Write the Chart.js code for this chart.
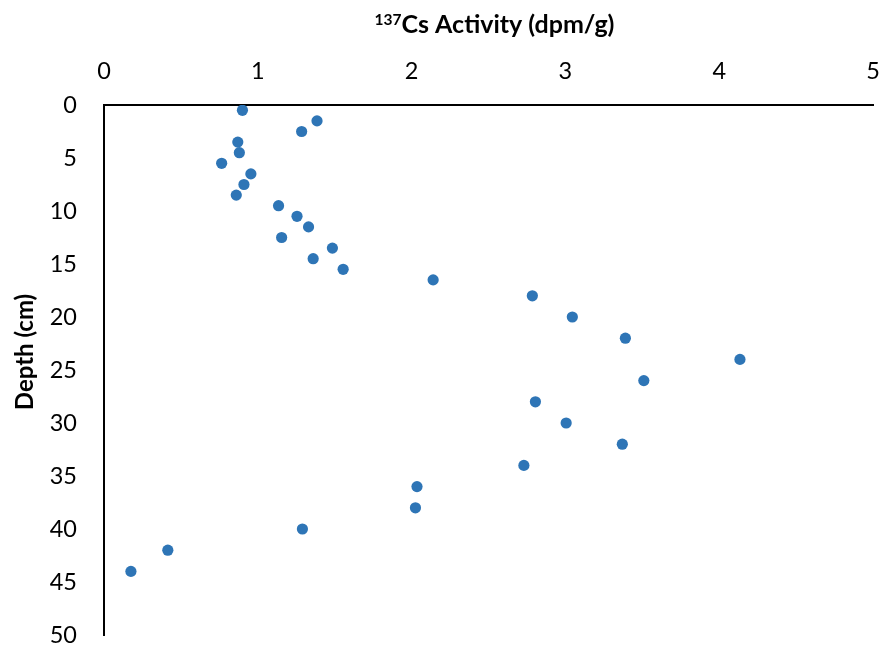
<!DOCTYPE html>
<html>
<head>
<meta charset="utf-8">
<script src="https://cdn.jsdelivr.net/npm/chart.js@4/dist/chart.umd.min.js"></script>
<style>
html,body{margin:0;padding:0;background:#fff;}
#wrap{width:886px;height:648px;}
</style>
</head>
<body>
<div id="wrap"><canvas id="c" width="886" height="648"></canvas></div>
<script>
const depth = [0.5,1.5,2.5,3.5,4.5,5.5,6.5,7.5,8.5,9.5,10.5,11.5,12.5,13.5,14.5,15.5,16.5,18,20,22,24,26,28,30,32,34,36,38,40,42,44];
const activity = [0.90,1.385,1.285,0.87,0.88,0.765,0.955,0.91,0.86,1.135,1.255,1.33,1.155,1.485,1.36,1.555,2.14,2.785,3.045,3.39,4.135,3.51,2.805,3.005,3.37,2.73,2.035,2.025,1.29,0.415,0.175];
const xTicks = [0,1,2,3,4,5];
const yTicks = [0,5,10,15,20,25,30,35,40,45,50];
const xTitleSup = '137';
const xTitleMain = 'Cs Activity (dpm/g)';
const yTitle = 'Depth (cm)';

const pts = depth.map((d,i)=>({x:activity[i], y:d}));
const FONT = 'Lato, "Open Sans", sans-serif';

const titlePlugin = {
  id:'titles',
  afterDraw(chart){
    const ctx = chart.ctx, ca = chart.chartArea;
    ctx.save();
    ctx.fillStyle = '#000';
    ctx.textBaseline = 'alphabetic';
    ctx.textAlign = 'left';
    const supFont = 'bold 15.5px ' + FONT, mainFont = 'bold 25px ' + FONT;
    ctx.font = supFont; const wSup = ctx.measureText(xTitleSup).width;
    ctx.font = mainFont; const wMain = ctx.measureText(xTitleMain).width;
    const cx = (ca.left + ca.right)/2 + 6;
    let x0 = cx - (wSup + wMain)/2;
    ctx.font = supFont; ctx.fillText(xTitleSup, x0, 25);
    ctx.font = mainFont; ctx.fillText(xTitleMain, x0 + wSup, 33);
    ctx.translate(33, (ca.top + ca.bottom)/2 - 18);
    ctx.rotate(-Math.PI/2);
    ctx.textAlign = 'center';
    ctx.font = 'bold 24px ' + FONT;
    ctx.fillText(yTitle, 0, 0);
    ctx.restore();
  }
};

new Chart(document.getElementById('c'), {
  type: 'scatter',
  data: { datasets: [{ data: pts, backgroundColor:'#2E75B6', borderColor:'#2E75B6', borderWidth:0, pointRadius:5.6, pointHoverRadius:5.6 }] },
  options: {
    responsive:false, animation:false,
    layout:{ padding:{ left:40, right:13, top:45, bottom:13 } },
    plugins:{ legend:{display:false}, tooltip:{enabled:false} },
    scales:{
      x:{
        type:'linear', position:'top', min:0, max:5,
        afterBuildTicks: ax => { ax.ticks = xTicks.map(v=>({value:v})); },
        afterFit: ax => { ax.height = 60; ax.paddingLeft = 0; ax.paddingRight = 0; },
        grid:{ display:false, drawTicks:false },
        border:{ display:true, color:'#000', width:2 },
        ticks:{ color:'#000', font:{family:FONT, size:23.5}, padding:19, maxRotation:0 }
      },
      y:{
        type:'linear', reverse:true, min:0, max:50,
        afterBuildTicks: ax => { ax.ticks = yTicks.map(v=>({value:v})); },
        afterFit: ax => { ax.width = 64; ax.paddingTop = 0; ax.paddingBottom = 0; },
        grid:{ display:false, drawTicks:false },
        border:{ display:true, color:'#000', width:2 },
        ticks:{ color:'#000', font:{family:FONT, size:23.5}, padding:27 }
      }
    }
  },
  plugins:[titlePlugin]
});
</script>
</body>
</html>
